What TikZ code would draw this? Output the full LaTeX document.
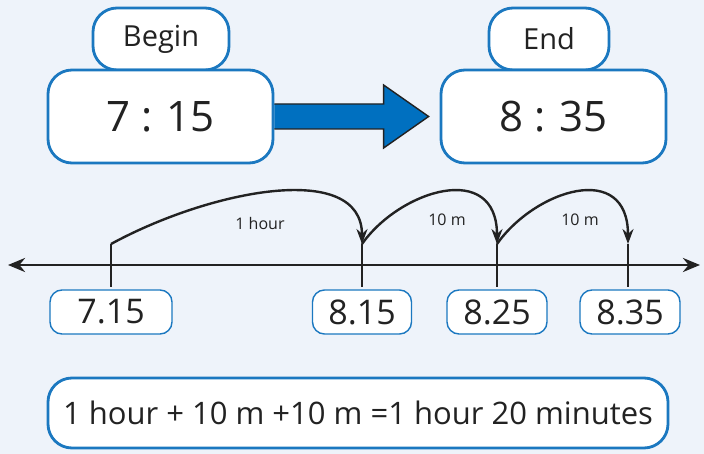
\documentclass[tikz,border=0pt]{standalone}
\usepackage{fontspec}
\setmainfont{Open Sans}
\usetikzlibrary{arrows.meta,calc}
\definecolor{bg}{HTML}{EEF3FA}
\definecolor{bord}{HTML}{1B78C0}
\definecolor{arrfill}{HTML}{0070C0}
\definecolor{ink}{HTML}{222222}
\tikzset{
  bigbox/.style={draw=bord,line width=2.8pt,fill=white,rounded corners=24pt,inner sep=0pt,text=ink},
  smallbox/.style={draw=bord,line width=1.4pt,fill=white,rounded corners=12pt,inner sep=0pt,minimum height=44pt,text=ink},
  jump/.style={draw=ink,line width=2.4pt,-{Stealth[length=15pt,width=11pt]}},
  tick/.style={draw=ink,line width=2.4pt},
  lbl/.style={font=\fontsize{16}{18}\selectfont,text=ink}
}
\begin{document}
\begin{tikzpicture}[x=1pt,y=-1pt]
\fill[bg] (0,0) rectangle (704,454);
\useasboundingbox (0,0) rectangle (704,454);
% top boxes
\node[bigbox,minimum width=136pt,minimum height=62pt,font=\fontsize{29}{32}\selectfont] (begin) at (161,39) {Begin};
\node[bigbox,minimum width=120pt,minimum height=62pt,font=\fontsize{29}{32}\selectfont] (end) at (549,39) {End};
\node[bigbox,minimum width=225pt,minimum height=93pt,font=\fontsize{42}{46}\selectfont] (t1) at (160.5,116.5) {7 : 15};
\node[bigbox,minimum width=225pt,minimum height=93pt,font=\fontsize{42}{46}\selectfont] (t2) at (553.5,116.5) {8 : 35};
% big arrow
\coordinate (tip) at ($(t2.west)+(-11,0)$);
\draw[fill=arrfill,draw=ink,line width=1.4pt,line join=miter]
  ($(t1.east)+(0,-12.5)$) -- ($(tip)+(-45,-12.5)$) -- ($(tip)+(-45,-31.5)$) -- (tip)
  -- ($(tip)+(-45,31.5)$) -- ($(tip)+(-45,12.5)$) -- ($(t1.east)+(0,12.5)$);
% number line
\coordinate (L) at (8,265);
\coordinate (R) at (700,265);
\draw[draw=ink,line width=2.8pt,{Stealth[length=17pt,width=14pt]}-{Stealth[length=17pt,width=14pt]}] (L) -- (R);
\foreach \n/\x in {a/111,b/362,c/497,d/628}{
  \coordinate (top\n) at (\x,244);
  \coordinate (bot\n) at (\x,287);
  \draw[tick] (top\n) -- (bot\n);
}
% jumps
\draw[jump] (topa) .. controls (210,190) and (362,160) .. (topb);
\draw[jump] (topb) .. controls (400,190) and (497,160) .. (topc);
\draw[jump] (topc) .. controls (535,190) and (628,160) .. (topd);
\node[lbl] (l1) at (260,224) {1 hour};
\node[lbl] (l2) at (447,220) {10 m};
\node[lbl] (l3) at (580,220) {10 m};
% value boxes
\node[smallbox,minimum width=122pt,font=\fontsize{34}{38}\selectfont] (v1) at (111,312) {7.15};
\node[smallbox,minimum width=99pt,font=\fontsize{34}{38}\selectfont] (v2) at (362,312) {8.15};
\node[smallbox,minimum width=100pt,font=\fontsize{34}{38}\selectfont] (v3) at (497,312) {8.25};
\node[smallbox,minimum width=100pt,font=\fontsize{34}{38}\selectfont] (v4) at (630,312) {8.35};
% summary
\node[bigbox,minimum width=620pt,minimum height=70pt,font=\fontsize{31}{35}\selectfont] (sum) at (358,413) {1 hour + 10 m +10 m =1 hour 20 minutes};
\end{tikzpicture}
\end{document}
